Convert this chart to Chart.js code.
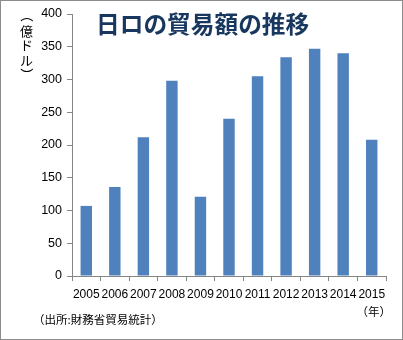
<!DOCTYPE html>
<html>
<head>
<meta charset="utf-8">
<script src="https://cdn.jsdelivr.net/npm/chart.js@4"></script>
<style>
  html, body { margin: 0; padding: 0; background: #fff; }
  #wrap { width: 403px; height: 340px; position: relative; }
</style>
</head>
<body>
<div id="wrap"><canvas id="c" width="403" height="340"></canvas></div>
<script>
// Japan–Russia trade value, 100 million USD
const years = ['2005','2006','2007','2008','2009','2010','2011','2012','2013','2014','2015'];
const tradeValues = [107, 136, 212, 298, 121, 240, 305, 334, 347, 340, 208];
const yTicks = [0, 50, 100, 150, 200, 250, 300, 350, 400];

const titleText = '日ロの貿易額の推移';
const unitChars = ['（', '億', 'ド', 'ル', '）'];
const sourceText = '（出所:財務省貿易統計）';
const yearUnitText = '（年）';

const axisGray = '#868686';
const jpFont = '"Noto Sans CJK JP", sans-serif';

const decorations = {
  id: 'decorations',
  afterDraw(chart) {
    const ctx = chart.ctx;
    ctx.save();
    // frame
    ctx.strokeStyle = '#8c8c8c';
    ctx.lineWidth = 1;
    ctx.strokeRect(0.5, 0.5, 402, 339);

    // title
    ctx.fillStyle = '#17375E';
    ctx.font = 'bold 23.7px ' + jpFont;
    ctx.textAlign = 'left';
    ctx.textBaseline = 'middle';
    ctx.fillText(titleText, 96, 24);

    // vertical unit label, brackets turned for vertical writing
    ctx.fillStyle = '#000';
    ctx.font = '13px ' + jpFont;
    ctx.textAlign = 'center';
    const ys = [15.5, 31.5, 45, 59.8, 74.5];
    unitChars.forEach((ch, i) => {
      if (ch === '（' || ch === '）') {
        ctx.save();
        ctx.translate(26.5, ys[i]);
        ctx.rotate(Math.PI / 2);
        ctx.fillText(ch, 0, 0);
        ctx.restore();
      } else {
        ctx.fillText(ch, 26.5, ys[i]);
      }
    });

    // source note
    ctx.textAlign = 'left';
    ctx.font = '11.5px ' + jpFont;
    ctx.fillText(sourceText, 33, 320);

    // year unit
    ctx.textAlign = 'right';
    ctx.font = '11.5px ' + jpFont;
    ctx.fillText(yearUnitText, 391, 312);
    ctx.restore();
  }
};

new Chart(document.getElementById('c'), {
  type: 'bar',
  data: {
    labels: years,
    datasets: [{
      data: tradeValues,
      backgroundColor: '#4F81BD',
      borderWidth: 0,
      categoryPercentage: 1.0,
      barPercentage: 0.4
    }]
  },
  options: {
    responsive: false,
    animation: false,
    devicePixelRatio: 1,
    layout: { padding: { top: 14, right: 17, left: 0, bottom: 0 } },
    plugins: { legend: { display: false }, tooltip: { enabled: false } },
    scales: {
      x: {
        grid: { display: true, drawOnChartArea: false, drawTicks: true, tickLength: 5, color: axisGray },
        border: { display: true, color: axisGray, width: 1 },
        ticks: {
          color: '#000',
          font: { family: '"Liberation Sans", Arial, sans-serif', size: 12 },
          maxRotation: 0, minRotation: 0, autoSkip: false, padding: 6
        },
        afterFit(scale) { scale.height = 64; }
      },
      y: {
        min: 0, max: 400,
        afterBuildTicks(scale) { scale.ticks = yTicks.map(v => ({ value: v })); },
        grid: { display: true, drawOnChartArea: false, drawTicks: true, tickLength: 5, color: axisGray },
        border: { display: true, color: axisGray, width: 1 },
        ticks: {
          color: '#000',
          font: { family: '"Liberation Sans", Arial, sans-serif', size: 12.5 },
          padding: 5
        },
        afterFit(scale) { scale.width = 72; }
      }
    }
  },
  plugins: [decorations]
});
</script>
</body>
</html>
